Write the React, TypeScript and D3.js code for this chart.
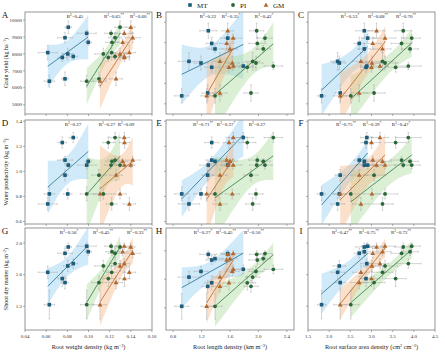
import React from 'react';
import * as d3 from 'd3';

// ---------- shared responses (10 observations) ----------
const grainYield = [9580, 9220, 8960, 8690, 8080, 8000, 7790, 7850, 6530, 6390];
const grainYieldSE = [370, 180, 300, 180, 430, 340, 240, 180, 400, 350];
const waterProd = [1.05, 1.05, 1.09, 1.08, 0.74, 0.82, 1.23, 1.27, 0.97, 0.82];
const waterProdSE = [0.02, 0.03, 0.03, 0.02, 0.05, 0.04, 0.045, 0.04, 0.045, 0.055];
const shootDM = [1.95, 1.96, 1.87, 1.89, 1.63, 1.71, 1.55, 1.74, 1.5, 1.22];
const shootDMSE = [0.05, 0.04, 0.06, 0.05, 0.08, 0.07, 0.1, 0.06, 0.08, 0.18];

// ---------- root traits per method ----------
const rwdMT = [0.0809, 0.0983, 0.0778, 0.0998, 0.0615, 0.0804, 0.0752, 0.0856, 0.0778, 0.063];
const rwdPI = [0.1298, 0.1213, 0.1251, 0.1222, 0.1219, 0.114, 0.1187, 0.1251, 0.1099, 0.0983];
const rwdGM = [0.1399, 0.1338, 0.1418, 0.1323, 0.1386, 0.1298, 0.134, 0.1338, 0.126, 0.1109];
const rldMT = [1.295, 1.568, 1.343, 1.389, 1.023, 1.192, 1.343, 1.787, 1.286, 0.921];
const rldPI = [1.975, 2.092, 1.984, 2.068, 1.919, 1.965, 1.843, 2.209, 1.895, 1.389];
const rldGM = [1.568, 1.646, 1.553, 1.6, 1.459, 1.632, 1.586, 1.646, 1.459, 1.272];
const rsadMT = [2.83, 2.91, 2.71, 2.83, 2.2, 2.24, 2.87, 2.89, 2.26, 1.82];
const rsadPI = [3.75, 3.95, 3.71, 3.91, 3.26, 3.32, 3.57, 3.87, 3.06, 2.51];
const rsadGM = [3.12, 3.32, 3.03, 3.26, 2.75, 3.01, 3.0, 3.2, 2.71, 2.26];

const rwdMTse = [0.003, 0.009, 0.007, 0.003, 0.009, 0.004, 0.004, 0.004, 0.003, 0.005];
const rwdPIse = [0.005, 0.006, 0.006, 0.006, 0.005, 0.008, 0.005, 0.005, 0.007, 0.006];
const rwdGMse = [0.004, 0.008, 0.007, 0.005, 0.006, 0.006, 0.005, 0.005, 0.006, 0.006];
const rldMTse = [0.12, 0.1, 0.08, 0.1, 0.15, 0.1, 0.1, 0.14, 0.08, 0.1];
const rldPIse = [0.1, 0.1, 0.12, 0.1, 0.1, 0.1, 0.12, 0.13, 0.1, 0.1];
const rldGMse = [0.08, 0.12, 0.1, 0.1, 0.1, 0.1, 0.08, 0.1, 0.1, 0.08];
const rsadMTse = [0.2, 0.15, 0.12, 0.15, 0.16, 0.15, 0.12, 0.15, 0.12, 0.1];
const rsadPIse = [0.2, 0.2, 0.25, 0.2, 0.25, 0.3, 0.25, 0.3, 0.26, 0.2];
const rsadGMse = [0.2, 0.25, 0.2, 0.2, 0.2, 0.2, 0.2, 0.2, 0.2, 0.15];

// ---------- R² labels (MT, PI, GM) ----------
const r2A = ['0.45', '0.65**', '0.60**'];
const r2B = ['0.22', '0.35*', '0.42*'];
const r2C = ['0.53*', '0.68**', '0.70**'];
const r2D = ['0.27', '0.27', '0.09'];
const r2E = ['0.71**', '0.37*', '0.27'];
const r2F = ['0.75**', '0.39*', '0.47*'];
const r2G = ['0.56*', '0.45**', '0.33**'];
const r2H = ['0.27*', '0.45**', '0.50**'];
const r2I = ['0.47**', '0.75**', '0.72**'];

// ---------- axes ----------
const methods = ['MT', 'PI', 'GM'];
const xDomains = [[0.04, 0.16], [0.7, 2.5], [1.5, 4.5]];
const xTicks = [
  [0.04, 0.06, 0.08, 0.1, 0.12, 0.14, 0.16],
  [0.8, 1.2, 1.6, 2.0, 2.4],
  [1.5, 2.0, 2.5, 3.0, 3.5, 4.0, 4.5],
];
const gyDomainA = [4450, 10480];
const gyDomainBC = [5500, 10500];
const wpDomain = [0.58, 1.41];
const sdmDomainGI = [0.9, 2.19];
const sdmDomainH = [0.887, 2.32];
const gyTicksA = [5000, 6000, 7000, 8000, 9000, 10000];
const gyTicksBC = [6000, 7000, 8000, 9000, 10000];
const wpTicks = [0.6, 0.8, 1.0, 1.2, 1.4];
const sdmTicks = [1.2, 1.6, 2.0];

const traits = [
  [rwdMT, rldMT, rsadMT],
  [rwdPI, rldPI, rsadPI],
  [rwdGM, rldGM, rsadGM],
];
const traitsSE = [
  [rwdMTse, rldMTse, rsadMTse],
  [rwdPIse, rldPIse, rsadPIse],
  [rwdGMse, rldGMse, rsadGMse],
];
const responses = [grainYield, waterProd, shootDM];
const responsesSE = [grainYieldSE, waterProdSE, shootDMSE];
const yDomains = [gyDomainA, gyDomainBC, gyDomainBC, wpDomain, wpDomain, wpDomain, sdmDomainGI, sdmDomainH, sdmDomainGI];
const yTicks = [gyTicksA, gyTicksBC, gyTicksBC, wpTicks, wpTicks, wpTicks, sdmTicks, sdmTicks, sdmTicks];
const r2Labels = [r2A, r2B, r2C, r2D, r2E, r2F, r2G, r2H, r2I];
const letters = ['A', 'B', 'C', 'D', 'E', 'F', 'G', 'H', 'I'];

// ---------- layout & style ----------
const COLS = [[25, 152], [166, 294], [308, 435]];
const ROWS = [[12, 114], [120, 224], [228, 330]];
const R2X = [
  [75, 114, 140], [208, 231, 264], [350, 378, 406],
  [73, 107, 126], [203, 226, 257], [346, 372, 401],
  [69, 103, 137], [203, 226, 254], [342, 369, 401],
];
const pointColors = ['#1b5d7b', '#2a6936', '#b3672a'];
const lineColors = ['#2f7896', '#3d7f4b', '#bb6f34'];
const bandColors = ['#8fcdf0', '#a9d898', '#f6b583'];
const FONT = "'Liberation Serif', 'Times New Roman', serif";

function tCrit(df: number) {
  const table: Record<number, number> = { 6: 2.447, 7: 2.365, 8: 2.306, 9: 2.262, 10: 2.228 };
  return table[df] ?? 2.306;
}

function fit(xs: number[], ys: number[]) {
  const n = xs.length;
  const mx = d3.mean(xs) as number;
  const my = d3.mean(ys) as number;
  let sxx = 0, sxy = 0;
  xs.forEach((x, i) => { sxx += (x - mx) ** 2; sxy += (x - mx) * (ys[i] - my); });
  const b = sxy / sxx;
  const a = my - b * mx;
  let sse = 0;
  xs.forEach((x, i) => { sse += (ys[i] - a - b * x) ** 2; });
  const s = Math.sqrt(sse / (n - 2));
  const [xmin, xmax] = d3.extent(xs) as [number, number];
  return { a, b, mx, sxx, s, n, t: tCrit(n - 2), xmin, xmax };
}

function Marker({ s, x, y }: { s: number; x: number; y: number }) {
  const c = pointColors[s];
  if (s === 0) return <rect x={x - 1.8} y={y - 1.8} width={3.6} height={3.6} fill={c} />;
  if (s === 1) return <circle cx={x} cy={y} r={1.9} fill={c} />;
  const p = d3.symbol().type(d3.symbolTriangle).size(10)() as string;
  return <path d={p} transform={`translate(${x},${y + 0.3})`} fill={c} />;
}

function R2Text({ x, y, v }: { x: number; y: number; v: string }) {
  const m = v.match(/^([\d.]+)(\**)$/) as RegExpMatchArray;
  return (
    <text x={x} y={y} textAnchor="middle" fontSize={5} fill="#222">
      R<tspan dy={-2} fontSize={3.4}>2</tspan>
      <tspan dy={2}>={m[1]}</tspan>
      {m[2] ? <tspan dy={-2} fontSize={3.6}>{m[2]}</tspan> : null}
    </text>
  );
}

function fmtX(c: number, v: number) {
  return c === 0 ? v.toFixed(2) : v.toFixed(1);
}
function fmtY(r: number, v: number) {
  return r === 0 ? String(v) : v.toFixed(1);
}

export default function App() {
  const panels: { i: number; r: number; c: number }[] = [];
  for (let r = 0; r < 3; r++) for (let c = 0; c < 3; c++) panels.push({ i: r * 3 + c, r, c });

  return (
    <svg width={445} height={353} style={{ position: 'absolute', left: 0, top: 0 }} fontFamily={FONT}>
      <rect x={0} y={0} width={445} height={353} fill="#fff" />
      {/* legend */}
      <g fontSize={7} fill="#222">
        <Marker s={0} x={190} y={5} />
        <text x={197} y={7.5}>MT</text>
        <Marker s={1} x={233} y={5} />
        <text x={240} y={7.5}>PI</text>
        <Marker s={2} x={266} y={5} />
        <text x={273} y={7.5}>GM</text>
      </g>
      {panels.map(({ i, r, c }) => {
        const [px0, px1] = COLS[c];
        const [py0, py1] = ROWS[r];
        const xs = d3.scaleLinear().domain(xDomains[c]).range([px0, px1]);
        const ys = d3.scaleLinear().domain(yDomains[i]).range([py1, py0]);
        const resp = responses[r];
        const respSE = responsesSE[r];
        const fits = methods.map((_, s) => fit(traits[s][c], resp));
        const clipId = `clip${letters[i]}`;
        return (
          <g key={letters[i]}>
            <defs>
              <clipPath id={clipId}>
                <rect x={px0} y={py0} width={px1 - px0} height={py1 - py0} />
              </clipPath>
            </defs>
            <g clipPath={`url(#${clipId})`}>
              {fits.map((f, s) => {
                const grid = d3.range(41).map((k) => f.xmin + ((f.xmax - f.xmin) * k) / 40);
                const half = (x: number) => f.t * f.s * Math.sqrt(1 / f.n + (x - f.mx) ** 2 / f.sxx);
                const area = d3
                  .area<number>()
                  .x((x) => xs(x))
                  .y0((x) => ys(f.a + f.b * x - half(x)))
                  .y1((x) => ys(f.a + f.b * x + half(x)));
                return <path key={s} d={area(grid) as string} fill={bandColors[s]} fillOpacity={0.42} stroke="none" />;
              })}
              {/* error bars */}
              {methods.map((_, s) =>
                traits[s][c].map((xv, k) => {
                  const cx = xs(xv), cy = ys(resp[k]);
                  const xl = xs(xv - traitsSE[s][c][k]), xr = xs(xv + traitsSE[s][c][k]);
                  const yt = ys(resp[k] + respSE[k]), yb = ys(resp[k] - respSE[k]);
                  return (
                    <g key={`e${s}-${k}`} stroke="#ababab" strokeWidth={0.5}>
                      <line x1={xl} x2={xr} y1={cy} y2={cy} />
                      <line x1={xl} x2={xl} y1={cy - 0.9} y2={cy + 0.9} />
                      <line x1={xr} x2={xr} y1={cy - 0.9} y2={cy + 0.9} />
                      <line x1={cx} x2={cx} y1={yt} y2={yb} />
                      <line x1={cx - 0.9} x2={cx + 0.9} y1={yt} y2={yt} />
                      <line x1={cx - 0.9} x2={cx + 0.9} y1={yb} y2={yb} />
                    </g>
                  );
                })
              )}
              {fits.map((f, s) => (
                <line
                  key={`l${s}`}
                  x1={xs(f.xmin)}
                  x2={xs(f.xmax)}
                  y1={ys(f.a + f.b * f.xmin)}
                  y2={ys(f.a + f.b * f.xmax)}
                  stroke={lineColors[s]}
                  strokeWidth={0.85}
                />
              ))}
            </g>
            {methods.map((_, s) =>
              traits[s][c].map((xv, k) => <Marker key={`p${s}-${k}`} s={s} x={xs(xv)} y={ys(resp[k])} />)
            )}
            <rect x={px0} y={py0} width={px1 - px0} height={py1 - py0} fill="none" stroke="#7a7a7a" strokeWidth={0.8} />
            {/* y ticks */}
            {yTicks[i].map((t) => (
              <g key={`yt${t}`}>
                <line x1={px0 - 2} x2={px0} y1={ys(t)} y2={ys(t)} stroke="#7a7a7a" strokeWidth={0.6} />
                {c === 0 ? (
                  <text x={px0 - 3} y={ys(t) + 1.7} textAnchor="end" fontSize={5} fill="#333">
                    {fmtY(r, t)}
                  </text>
                ) : null}
              </g>
            ))}
            {/* x ticks */}
            {xTicks[c].map((t) => (
              <g key={`xt${t}`}>
                <line x1={xs(t)} x2={xs(t)} y1={py1} y2={py1 + 2} stroke="#7a7a7a" strokeWidth={0.6} />
                {r === 2 ? (
                  <text x={xs(t)} y={py1 + 8} textAnchor="middle" fontSize={5} fill="#333">
                    {fmtX(c, t)}
                  </text>
                ) : null}
              </g>
            ))}
            {/* R2 labels */}
            {r2Labels[i].map((v, s) => (
              <R2Text key={`r${s}`} x={R2X[i][s]} y={py0 + 5.5} v={v} />
            ))}
            {/* panel letter */}
            <text x={c === 0 ? 5 : px0 - 7} y={py0 + 6} fontSize={9} textAnchor="middle" fill="#111">
              {letters[i]}
            </text>
          </g>
        );
      })}
      {/* y-axis titles */}
      <g fontSize={6} fill="#222" textAnchor="middle">
        <text transform={`translate(8,${(ROWS[0][0] + ROWS[0][1]) / 2}) rotate(-90)`}>
          Grain yield (kg ha<tspan dy={-2} fontSize={4}>−1</tspan>
          <tspan dy={2}>)</tspan>
        </text>
        <text transform={`translate(8,${(ROWS[1][0] + ROWS[1][1]) / 2}) rotate(-90)`}>
          Water productivity (kg m<tspan dy={-2} fontSize={4}>−3</tspan>
          <tspan dy={2}>)</tspan>
        </text>
        <text transform={`translate(8,${(ROWS[2][0] + ROWS[2][1]) / 2}) rotate(-90)`}>
          Shoot dry matter (kg m<tspan dy={-2} fontSize={4}>−2</tspan>
          <tspan dy={2}>)</tspan>
        </text>
      </g>
      {/* x-axis titles */}
      <g fontSize={6.3} fill="#222" textAnchor="middle">
        <text x={(COLS[0][0] + COLS[0][1]) / 2} y={349}>
          Root weight density (kg m<tspan dy={-2} fontSize={4.2}>−3</tspan>
          <tspan dy={2}>)</tspan>
        </text>
        <text x={(COLS[1][0] + COLS[1][1]) / 2} y={349}>
          Root length density (km m<tspan dy={-2} fontSize={4.2}>−3</tspan>
          <tspan dy={2}>)</tspan>
        </text>
        <text x={(COLS[2][0] + COLS[2][1]) / 2} y={349}>
          Root surface area density (cm<tspan dy={-2} fontSize={4.2}>2</tspan>
          <tspan dy={2}> cm</tspan>
          <tspan dy={-2} fontSize={4.2}>−3</tspan>
          <tspan dy={2}>)</tspan>
        </text>
      </g>
    </svg>
  );
}
